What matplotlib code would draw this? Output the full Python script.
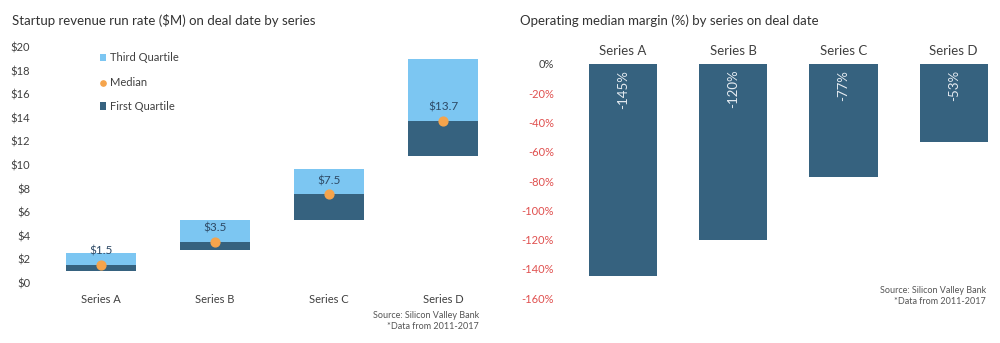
import matplotlib.pyplot as plt
import numpy as np

plt.rcParams['font.family'] = ['Lato', 'DejaVu Sans']

# revenue run rate ($M) by series
series = ['Series A', 'Series B', 'Series C', 'Series D']
first_q = [1.0, 2.8, 5.3, 10.8]
median = [1.5, 3.5, 7.5, 13.7]
third_q = [2.5, 5.3, 9.7, 19.0]
median_labels = ['$1.5', '$3.5', '$7.5', '$13.7']

# operating median margin (%)
margin = [-145, -120, -77, -53]
margin_ticks = [0, -20, -40, -60, -80, -100, -120, -140, -160]

light = '#7CC6F2'
dark = '#36627F'
orange = '#F5A44C'
red = '#E0504F'
text_col = '#404040'

fig = plt.figure(figsize=(10, 3.43), dpi=100)

# left chart
ax1 = fig.add_axes([0.044, 0.175, 0.456, 0.688])
x = np.arange(len(series))
w = 0.62
b1 = ax1.bar(x, np.array(median) - np.array(first_q), bottom=first_q, width=w,
             color=dark)
b3 = ax1.bar(x, np.array(third_q) - np.array(median), bottom=median, width=w,
             color=light)
sc = ax1.scatter(x, median, s=40, color=orange, zorder=3)
for xi, m, lab in zip(x, median, median_labels):
    ax1.annotate(lab, (xi, m), xytext=(0, 6), textcoords='offset points',
                 ha='center', va='bottom', fontsize=8.5, color='#2E4A66')
ax1.set_xlim(-0.5, 3.5)
ax1.set_ylim(0, 20)
ax1.set_yticks(range(0, 21, 2))
ax1.set_yticklabels([f'${v}' for v in range(0, 21, 2)])
ax1.set_xticks(x)
ax1.set_xticklabels(series)
ax1.tick_params(length=0, labelsize=8, colors=text_col)
ax1.tick_params(axis='y', pad=10)
ax1.tick_params(axis='x', pad=8)
for s in ax1.spines.values():
    s.set_visible(False)

leg = ax1.legend([b3, sc, b1], ['Third Quartile', 'Median', 'First Quartile'],
                 loc='upper left', bbox_to_anchor=(0.1, 1.02), frameon=False,
                 fontsize=8, handlelength=0.6, handleheight=0.6,
                 handletextpad=0.3, labelspacing=1.2, markerscale=0.6)
for t in leg.get_texts():
    t.set_color(text_col)

fig.text(0.012, 0.94, 'Startup revenue run rate ($M) on deal date by series',
         fontsize=9.5, color='#333333', va='center')
fig.text(0.479, 0.064, 'Source: Silicon Valley Bank\n*Data from 2011-2017',
         fontsize=6.5, color='#555555', ha='right', va='center',
         linespacing=1.4)

# right chart
ax2 = fig.add_axes([0.568, 0.131, 0.432, 0.6825])
ax2.bar(x, margin, width=w, color=dark)
for xi, v in zip(x, margin):
    ax2.text(xi, -4, f'{v}%', rotation=90, ha='center', va='top',
             fontsize=9.5, color='#E6ECF2')
ax2.set_xlim(-0.5, 3.42)
ax2.set_ylim(-160, 0)
ax2.set_yticks(margin_ticks)
ax2.set_yticklabels([f'{v}%' for v in margin_ticks])
for i, lab in enumerate(ax2.get_yticklabels()):
    lab.set_color(text_col if i == 0 else red)
ax2.xaxis.tick_top()
ax2.set_xticks(x)
ax2.set_xticklabels(series)
ax2.tick_params(length=0, labelsize=8)
ax2.tick_params(axis='x', labelsize=9.5, colors=text_col, pad=5)
ax2.tick_params(axis='y', pad=10)
for s in ax2.spines.values():
    s.set_visible(False)

fig.text(0.52, 0.94, 'Operating median margin (%) by series on deal date',
         fontsize=9.5, color='#333333', va='center')
fig.text(0.986, 0.137, 'Source: Silicon Valley Bank\n*Data from 2011-2017',
         fontsize=6.5, color='#555555', ha='right', va='center',
         linespacing=1.4)

fig.savefig('out.png', dpi=100)
